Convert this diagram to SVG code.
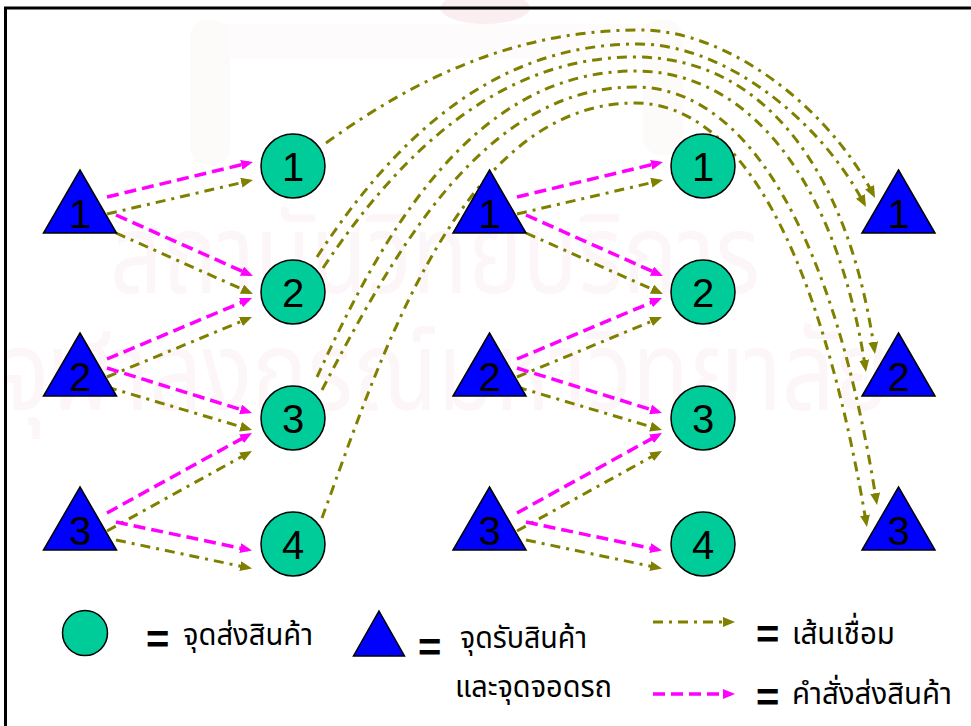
<svg xmlns="http://www.w3.org/2000/svg" width="971" height="726" viewBox="0 0 971 726">
  <style>
    .tri { fill: #0000FF; stroke: #000; stroke-width: 1.5; stroke-linejoin: miter; }
    .node { fill: #00CC99; stroke: #000; stroke-width: 1.5; }
    .num { font-family: "Liberation Sans", Arial, sans-serif; font-size: 40px; text-anchor: middle; fill: #000; }
    .link { fill: none; stroke: #808000; stroke-width: 3; stroke-dasharray: 10 6 3 6; marker-end: url(#ah-olive); }
    .order { fill: none; stroke: #FF00FF; stroke-width: 3.5; stroke-dasharray: 12 6; marker-end: url(#ah-mag); }
    .eq { font-family: "Liberation Sans", Arial, sans-serif; font-size: 40px; font-weight: bold; fill: #000; }
    .th { font-family: "Noto Sans Thai", "Noto Sans Thai UI", Tahoma, "Noto Sans", sans-serif; font-size: 31px; fill: #000; }
    .wm { font-family: "Noto Sans Thai", "Noto Sans Thai UI", Tahoma, "Noto Sans", sans-serif; font-size: 110px; fill: #fcf6f8; }
  </style>
  <defs>
    <marker id="ah-olive" markerUnits="userSpaceOnUse" viewBox="0 0 12 10" markerWidth="12" markerHeight="10" refX="8" refY="5" orient="auto">
      <path d="M0,0 L12,5 L0,10 Z" fill="#808000"/>
    </marker>
    <marker id="ah-mag" markerUnits="userSpaceOnUse" viewBox="0 0 12 10" markerWidth="12" markerHeight="10" refX="8" refY="5" orient="auto">
      <path d="M0,0 L12,5 L0,10 Z" fill="#FF00FF"/>
    </marker>
  </defs>

  <rect width="971" height="726" fill="#fff"/>

  <!-- faint background emblem and lettering -->
  <g id="watermark">
    <rect x="190" y="24" width="490" height="34" rx="17" fill="#fdfbfb"/>
    <rect x="190" y="20" width="40" height="145" rx="18" fill="#fdfbfa"/>
    <rect x="643" y="20" width="40" height="135" rx="18" fill="#fdfbfa"/>
    <ellipse cx="485" cy="8" rx="45" ry="16" fill="#fbeef1"/>
    <text class="wm" x="110" y="293" textLength="650" lengthAdjust="spacingAndGlyphs">สถาบันวิทยบริการ</text>
    <text class="wm" x="0" y="410" textLength="890" lengthAdjust="spacingAndGlyphs">จุฬาลงกรณ์มหาวิทยาลัย</text>
  </g>

  <!-- frame -->
  <rect x="5.5" y="8" width="1000" height="1000" fill="none" stroke="#000" stroke-width="3"/>

  <g id="connectors">
    <!-- first stage: pickup points to delivery points -->
    <path class="order" d="M107,197 L249.1,162.9"/>
    <path class="link" d="M107,214 L249.1,180.9"/>
    <path class="order" d="M116,215 L249.3,274.4"/>
    <path class="link" d="M116,233 L249.3,292.4"/>
    <path class="order" d="M107,359 L248.3,299.6"/>
    <path class="link" d="M107,377 L248.3,318.5"/>
    <path class="order" d="M107,368 L248.2,411.8"/>
    <path class="link" d="M107,387 L248.2,428.9"/>
    <path class="order" d="M107,513 L248.5,434.9"/>
    <path class="link" d="M107,531 L248.5,452.9"/>
    <path class="order" d="M116,522 L248.1,549.8"/>
    <path class="link" d="M116,540 L248.1,567.8"/>

    <!-- second stage, same pattern shifted right -->
    <g transform="translate(410,0)">
      <path class="order" d="M107,197 L249.1,162.9"/>
      <path class="link" d="M107,214 L249.1,180.9"/>
      <path class="order" d="M116,215 L249.3,274.4"/>
      <path class="link" d="M116,233 L249.3,292.4"/>
      <path class="order" d="M107,359 L248.3,299.6"/>
      <path class="link" d="M107,377 L248.3,318.5"/>
      <path class="order" d="M107,368 L248.2,411.8"/>
      <path class="link" d="M107,387 L248.2,428.9"/>
      <path class="order" d="M107,513 L248.5,434.9"/>
      <path class="link" d="M107,531 L248.5,452.9"/>
      <path class="order" d="M116,522 L248.1,549.8"/>
      <path class="link" d="M116,540 L248.1,567.8"/>
    </g>

    <!-- long links from first-stage delivery points to the last column -->
    <path class="link" d="M326,143 C420,75 520,30 640,30 C730,30 830,110 873.2,194.4"/>
    <path class="link" d="M317,257 C400,130 500,44 638,44 C725,44 820,120 864.1,203.5"/>
    <path class="link" d="M323,268 C405,145 505,57 635,57 C770,57 850,180 874.4,350"/>
    <path class="link" d="M317,377 C380,240 470,71 635,71 C760,71 840,200 865.4,368"/>
    <path class="link" d="M322,390 C395,250 485,87 635,87 C750,87 835,240 876.4,501"/>
    <path class="link" d="M322,518 C380,360 460,103 635,103 C740,103 820,250 866.3,523"/>
  </g>

  <!-- first column: pickup points -->
  <g id="tri-a1"><polygon class="tri" points="80,170 116.5,233 43.5,233"/><text class="num" x="80" y="228">1</text></g>
  <g id="tri-a2"><polygon class="tri" points="80,333 116.5,396 43.5,396"/><text class="num" x="80" y="391">2</text></g>
  <g id="tri-a3"><polygon class="tri" points="80,487 116.5,550 43.5,550"/><text class="num" x="80" y="545">3</text></g>

  <!-- second column: delivery points -->
  <g id="node-a1"><circle class="node" cx="293" cy="166" r="32"/><text class="num" x="293" y="181">1</text></g>
  <g id="node-a2"><circle class="node" cx="293" cy="292" r="32"/><text class="num" x="293" y="307">2</text></g>
  <g id="node-a3"><circle class="node" cx="293" cy="418" r="32"/><text class="num" x="293" y="433">3</text></g>
  <g id="node-a4"><circle class="node" cx="293" cy="544" r="32"/><text class="num" x="293" y="559">4</text></g>

  <!-- third column: pickup points -->
  <g id="tri-b1"><polygon class="tri" points="489.5,170 526,233 453,233"/><text class="num" x="489.5" y="228">1</text></g>
  <g id="tri-b2"><polygon class="tri" points="489.5,333 526,396 453,396"/><text class="num" x="489.5" y="391">2</text></g>
  <g id="tri-b3"><polygon class="tri" points="489.5,487 526,550 453,550"/><text class="num" x="489.5" y="545">3</text></g>

  <!-- fourth column: delivery points -->
  <g id="node-b1"><circle class="node" cx="703" cy="166" r="32"/><text class="num" x="703" y="181">1</text></g>
  <g id="node-b2"><circle class="node" cx="703" cy="292" r="32"/><text class="num" x="703" y="307">2</text></g>
  <g id="node-b3"><circle class="node" cx="703" cy="418" r="32"/><text class="num" x="703" y="433">3</text></g>
  <g id="node-b4"><circle class="node" cx="703" cy="544" r="32"/><text class="num" x="703" y="559">4</text></g>

  <!-- last column: pickup points -->
  <g id="tri-c1"><polygon class="tri" points="898.5,170 935,233 862,233"/><text class="num" x="898.5" y="228">1</text></g>
  <g id="tri-c2"><polygon class="tri" points="898.5,333 935,396 862,396"/><text class="num" x="898.5" y="391">2</text></g>
  <g id="tri-c3"><polygon class="tri" points="898.5,487 935,550 862,550"/><text class="num" x="898.5" y="545">3</text></g>

  <!-- legend -->
  <g id="legend">
    <circle class="node" cx="85" cy="633" r="22.5"/>
    <text class="eq" x="146" y="653">=</text>
    <text class="th" x="183" y="645" textLength="130" lengthAdjust="spacingAndGlyphs">จุดส่งสินค้า</text>

    <polygon class="tri" points="379,611 404.5,656 353.5,656"/>
    <text class="eq" x="418" y="661">=</text>
    <text class="th" x="460" y="648" textLength="127" lengthAdjust="spacingAndGlyphs">จุดรับสินค้า</text>
    <text class="th" x="455" y="697" textLength="157" lengthAdjust="spacingAndGlyphs">และจุดจอดรถ</text>

    <path class="link" d="M653,622 L731,622"/>
    <text class="eq" x="756" y="648">=</text>
    <text class="th" x="792" y="644" textLength="103" lengthAdjust="spacingAndGlyphs">เส้นเชื่อม</text>

    <path class="order" d="M653,694 L731,694"/>
    <text class="eq" x="756" y="711">=</text>
    <text class="th" x="792" y="704" textLength="160" lengthAdjust="spacingAndGlyphs">คำสั่งส่งสินค้า</text>
  </g>
</svg>
